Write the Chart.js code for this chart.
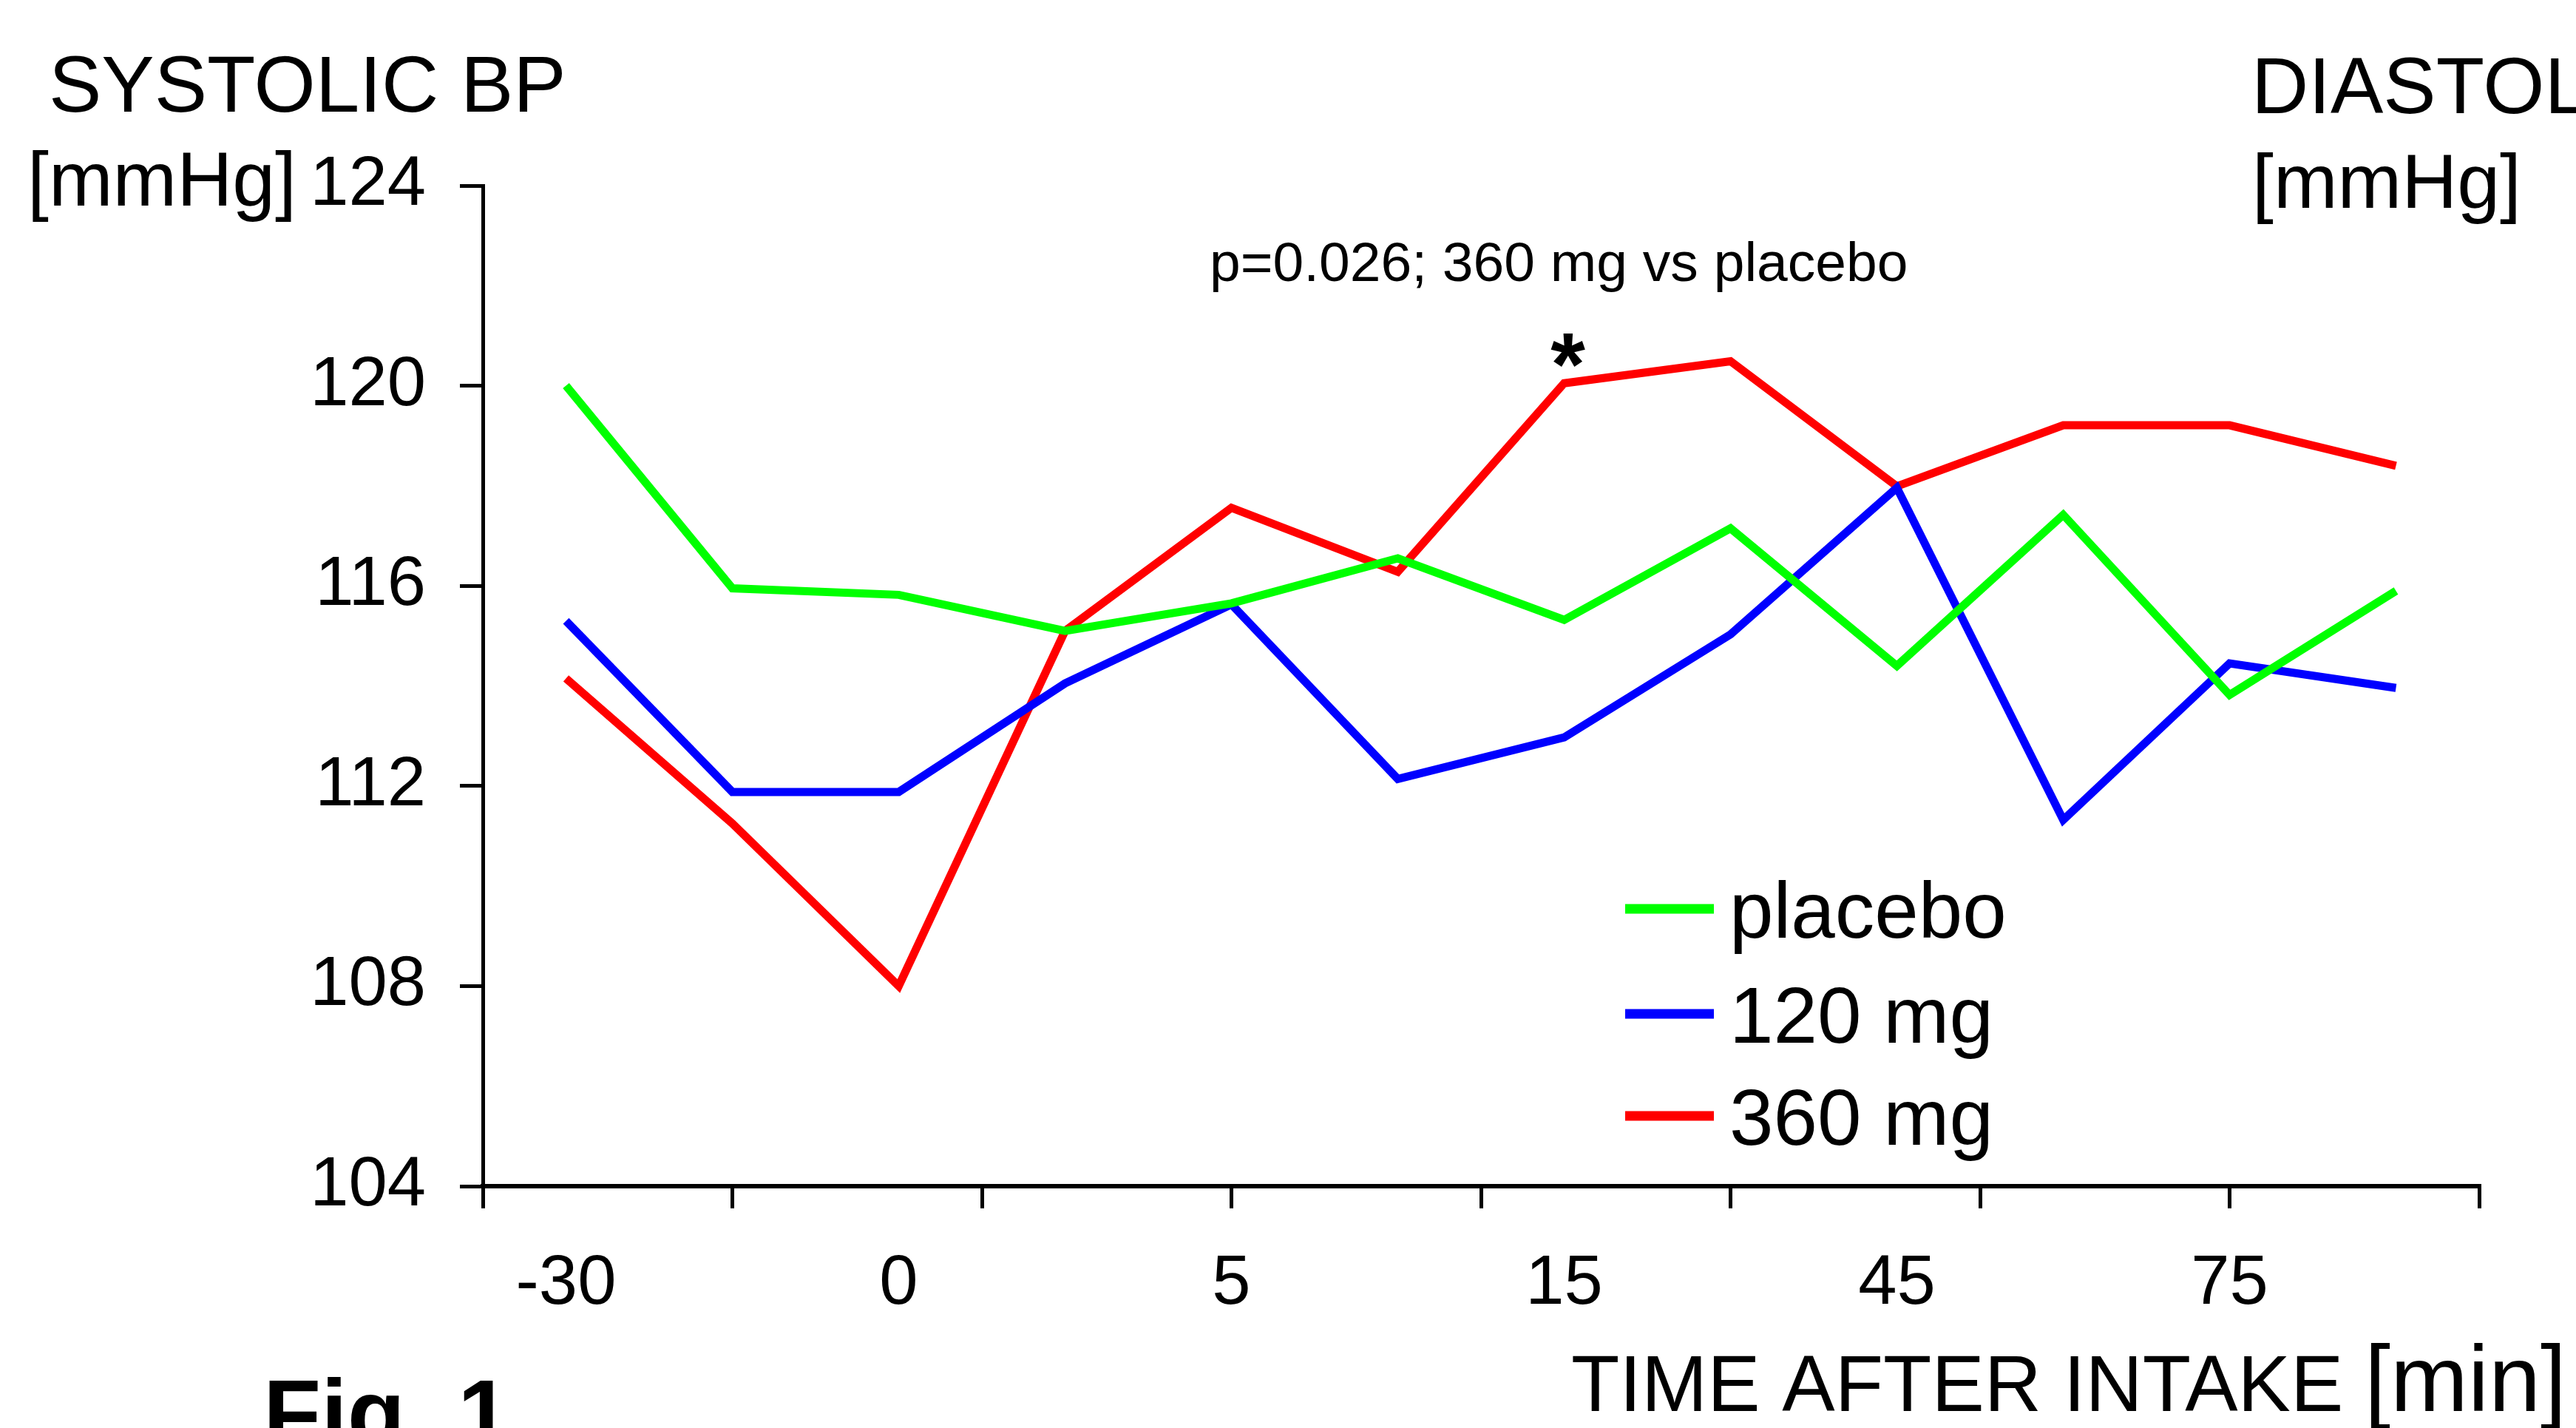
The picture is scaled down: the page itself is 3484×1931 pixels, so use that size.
<!DOCTYPE html>
<html>
<head>
<meta charset="utf-8">
<title>Systolic BP</title>
<script src="https://cdn.jsdelivr.net/npm/chart.js@4.4.0/dist/chart.umd.min.js"></script>
<style>
  html, body { margin: 0; padding: 0; background: #fff; }
  #wrap { width: 3484px; height: 1931px; }
</style>
</head>
<body>
<div id="wrap"><canvas id="bpChart" width="3484" height="1931"></canvas></div>
<script>
// time after intake, only every second point is labelled in the figure
const timeLabels = ["-30", "", "0", "", "5", "", "15", "", "45", "", "75", ""];

// systolic BP [mmHg]
const placebo = [120.0, 115.95, 115.82, 115.1, 115.65, 116.55, 115.32, 117.15, 114.4, 117.42, 113.82, 115.9];
const dose120 = [115.3, 111.88, 111.88, 114.05, 115.63, 112.14, 112.97, 115.03, 117.96, 111.32, 114.45, 113.96];
const dose360 = [114.15, 111.25, 108.0, 115.1, 117.56, 116.28, 120.05, 120.49, 117.99, 119.21, 119.21, 118.4];

const yTicks = [104, 108, 112, 116, 120, 124];
const seriesNames = ["placebo", "120 mg", "360 mg"];
const seriesColors = ["#00ff00", "#0000ff", "#ff0000"];
const starIndex = 6; // p=0.026 marker on the 360 mg line

const FONT = '"Liberation Sans", Arial, sans-serif';

// texts around the plot + legend
const labelsPlugin = {
  id: "bpLabels",
  afterDraw(chart) {
    const ctx = chart.ctx;
    ctx.save();
    ctx.fillStyle = "#000";
    ctx.textAlign = "left";
    ctx.textBaseline = "alphabetic";

    ctx.font = "107px " + FONT;
    ctx.fillText("SYSTOLIC BP", 66, 151);
    ctx.fillText("DIASTOLIC BP", 3045, 153);

    ctx.font = "104px " + FONT;
    ctx.fillText("[mmHg]", 37, 278);
    ctx.fillText("[mmHg]", 3046, 281);

    ctx.font = "75px " + FONT;
    ctx.fillText("p=0.026; 360 mg vs placebo", 1636, 380);

    // asterisk above the 360 mg point
    const xs = chart.scales.x.getPixelForValue(starIndex);
    const ys = chart.scales.y.getPixelForValue(dose360[starIndex]);
    ctx.font = "bold 120px " + FONT;
    ctx.textAlign = "center";
    ctx.fillText("*", xs + 5, ys + 16);
    ctx.textAlign = "left";

    ctx.font = "107px " + FONT;
    ctx.fillText("TIME AFTER INTAKE", 2125, 1908);
    ctx.font = "126px " + FONT;
    ctx.fillText("[min]", 3198, 1908);

    ctx.font = "bold 128px " + FONT;
    ctx.fillText("Fig. 1", 356, 1955);

    // legend
    const rows = [1229, 1371, 1509];
    chart.data.datasets.forEach((ds, i) => {
      ctx.strokeStyle = ds.borderColor;
      ctx.lineWidth = 13;
      ctx.beginPath();
      ctx.moveTo(2198, rows[i]);
      ctx.lineTo(2318, rows[i]);
      ctx.stroke();
      ctx.font = "107px " + FONT;
      ctx.fillText(ds.label, 2339, rows[i] + 39);
    });
    ctx.restore();
  }
};

const ctx = document.getElementById("bpChart");
const chart = new Chart(ctx, {
  type: "line",
  data: {
    labels: timeLabels,
    datasets: [placebo, dose120, dose360].map((vals, i) => ({
      label: seriesNames[i],
      data: vals,
      borderColor: seriesColors[i],
      borderWidth: 11,
      pointRadius: 0,
      tension: 0,
      fill: false
    }))
  },
  options: {
    responsive: false,
    devicePixelRatio: 1,
    animation: false,
    layout: { padding: { top: 251, right: 131, left: 0, bottom: 0 } },
    plugins: { legend: { display: false }, tooltip: { enabled: false } },
    scales: {
      x: {
        type: "category",
        position: "bottom",
        weight: 2,
        offset: true,
        grid: { display: false, drawTicks: false },
        border: { display: false },
        ticks: { autoSkip: false, maxRotation: 0, color: "#000", font: { family: FONT, size: 94 }, padding: 47 },
        afterFit: (s) => { s.height = 297; }
      },
      xt: {
        type: "linear",
        position: "bottom",
        weight: 1,
        min: 0,
        max: 12,
        ticks: { display: false, stepSize: 1.5 },
        grid: { drawOnChartArea: false, color: "#000", lineWidth: 5, tickLength: 30 },
        border: { color: "#000", width: 6 },
        afterFit: (s) => { s.height = 30; }
      },
      y: {
        min: yTicks[0],
        max: yTicks[yTicks.length - 1],
        ticks: { stepSize: yTicks[1] - yTicks[0], color: "#000", font: { family: FONT, size: 94 }, padding: 46 },
        grid: { drawOnChartArea: false, color: "#000", lineWidth: 5, tickLength: 31 },
        border: { color: "#000", width: 5 },
        afterFit: (s) => { s.width = 653; }
      }
    }
  },
  plugins: [labelsPlugin]
});
</script>
</body>
</html>
